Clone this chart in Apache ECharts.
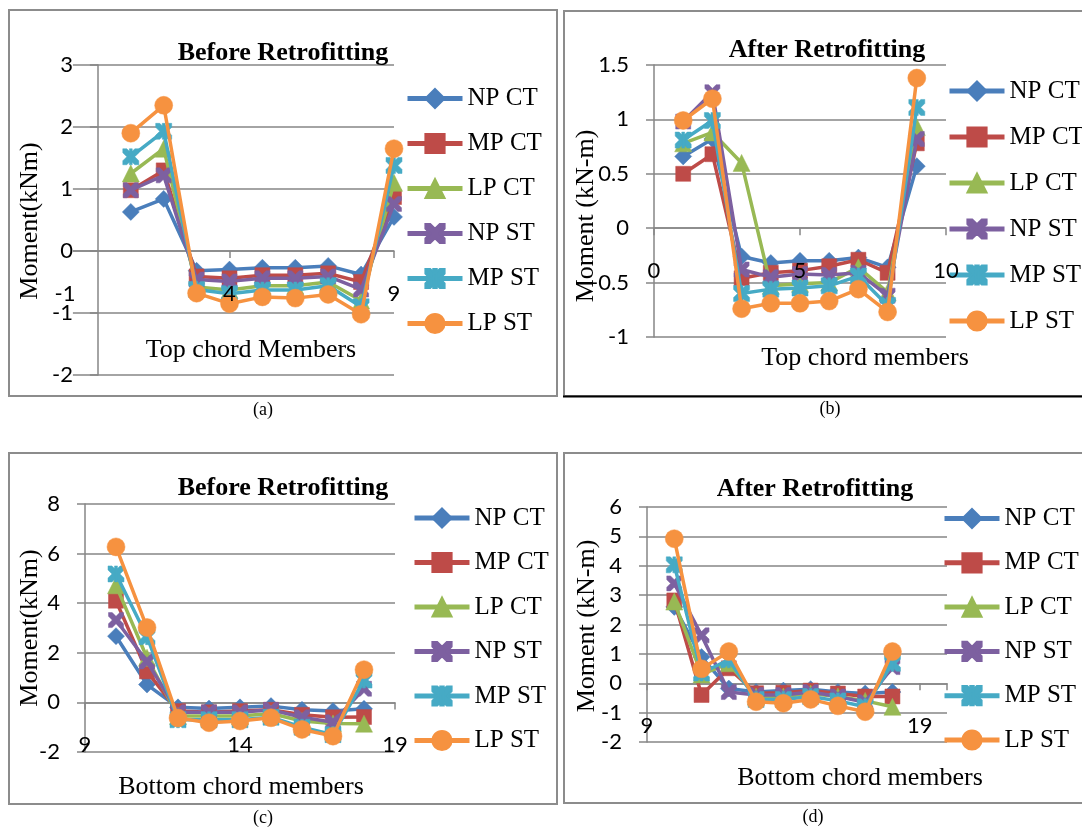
<!DOCTYPE html>
<html><head><meta charset="utf-8">
<script src="https://cdn.jsdelivr.net/npm/echarts@6/dist/echarts.min.js"></script>
<style>html,body{margin:0;padding:0;background:#fff}#c{width:1082px;height:827px}</style>
</head><body><div id="c"></div>
<script>
const seriesNames = ['NP CT', 'MP CT', 'LP CT', 'NP ST', 'MP ST', 'LP ST'];
const topMembers = [1, 2, 3, 4, 5, 6, 7, 8, 9];
const bottomMembers = [10, 11, 12, 13, 14, 15, 16, 17, 18];

// (a) Before retrofitting, top chord members
const aNPCT = [0.63, 0.84, -0.32, -0.30, -0.27, -0.27, -0.24, -0.38, 0.55];
const aMPCT = [0.98, 1.30, -0.41, -0.44, -0.39, -0.39, -0.36, -0.50, 0.87];
const aLPCT = [1.25, 1.65, -0.58, -0.63, -0.56, -0.56, -0.50, -0.80, 1.10];
const aNPST = [0.98, 1.22, -0.46, -0.49, -0.44, -0.44, -0.41, -0.62, 0.76];
const aMPST = [1.52, 1.93, -0.62, -0.69, -0.63, -0.63, -0.56, -0.90, 1.38];
const aLPST = [1.90, 2.35, -0.68, -0.85, -0.74, -0.76, -0.70, -1.02, 1.65];

// (b) After retrofitting, top chord members
const bNPCT = [0.66, 0.82, -0.26, -0.32, -0.30, -0.30, -0.27, -0.36, 0.57];
const bMPCT = [0.50, 0.68, -0.46, -0.41, -0.39, -0.35, -0.29, -0.41, 0.78];
const bLPCT = [0.78, 0.88, 0.60, -0.53, -0.51, -0.50, -0.36, -0.59, 0.93];
const bNPST = [0.98, 1.25, -0.38, -0.45, -0.42, -0.43, -0.41, -0.62, 0.82];
const bMPST = [0.81, 0.99, -0.60, -0.56, -0.55, -0.53, -0.44, -0.71, 1.11];
const bLPST = [0.99, 1.19, -0.74, -0.69, -0.69, -0.67, -0.56, -0.77, 1.38];

// (c) Before retrofitting, bottom chord members
const cNPCT = [2.67, 0.72, -0.20, -0.25, -0.20, -0.15, -0.30, -0.35, -0.26];
const cMPCT = [4.10, 1.25, -0.35, -0.40, -0.35, -0.30, -0.50, -0.60, -0.59];
const cLPCT = [4.72, 1.80, -0.55, -0.55, -0.55, -0.45, -0.75, -0.85, -0.86];
const cNPST = [3.32, 1.65, -0.40, -0.40, -0.40, -0.30, -0.60, -0.80, 0.55];
const cMPST = [5.18, 2.65, -0.70, -0.70, -0.70, -0.60, -1.00, -1.30, 0.90];
const cLPST = [6.27, 3.02, -0.63, -0.82, -0.75, -0.62, -1.09, -1.36, 1.32];

// (d) After retrofitting, bottom chord members
const dNPCT = [2.60, 0.89, -0.18, -0.30, -0.25, -0.20, -0.30, -0.35, -0.30];
const dMPCT = [2.82, -0.40, 0.51, -0.34, -0.32, -0.25, -0.35, -0.45, -0.45];
const dLPCT = [2.78, 0.30, 0.68, -0.45, -0.45, -0.35, -0.45, -0.60, -0.80];
const dNPST = [3.40, 1.63, -0.30, -0.40, -0.40, -0.30, -0.45, -0.65, 0.55];
const dMPST = [4.03, 0.35, 0.80, -0.55, -0.55, -0.45, -0.60, -0.80, 0.68];
const dLPST = [4.92, 0.49, 1.08, -0.63, -0.68, -0.55, -0.77, -0.97, 1.08];

const panelTitles = ['Before Retrofitting', 'After Retrofitting', 'Before Retrofitting', 'After Retrofitting'];
const xNames = ['Top chord Members', 'Top chord members', 'Bottom chord members', 'Bottom chord members'];
const yNames = ['Moment(kNm)', 'Moment (kN-m)', 'Moment(kNm)', 'Moment (kN-m)'];
const captions = ['(a)', '(b)', '(c)', '(d)'];

const panels = [
  { members: topMembers, values: [aNPCT, aMPCT, aLPCT, aNPST, aMPST, aLPST] },
  { members: topMembers, values: [bNPCT, bMPCT, bLPCT, bNPST, bMPST, bLPST] },
  { members: bottomMembers, values: [cNPCT, cMPCT, cLPCT, cNPST, cMPST, cLPST] },
  { members: bottomMembers, values: [dNPCT, dMPCT, dLPCT, dNPST, dMPST, dLPST] }
];

// ---- styling ----
const colors = ['#4A7EBB', '#BE4B48', '#98B954', '#7D60A0', '#46AAC5', '#F69240'];
const X_PATH = 'path://M0,0L2.5,0L5,2.5L7.5,0L10,0L10,2.5L7.5,5L10,7.5L10,10L7.5,10L5,7.5L2.5,10L0,10L0,7.5L2.5,5L0,2.5Z';
const STAR_PATH = X_PATH + 'M4.1,0L5.9,0L5.9,10L4.1,10Z';
const symbols = ['diamond', 'rect', 'triangle', X_PATH, STAR_PATH, 'circle'];
const symbolSizes = [17, 15, 17, 15, 16, 18];

const grids = [
  { left: 65, top: 65, width: 329, height: 310 },
  { left: 654, top: 65, width: 292, height: 272 },
  { left: 85, top: 504, width: 310, height: 248 },
  { left: 647, top: 507, width: 300, height: 235 }
];
const xRanges = [
  { min: -1, max: 9, interval: 5 },
  { min: 0, max: 10, interval: 5 },
  { min: 9, max: 19, interval: 5 },
  { min: 9, max: 20, interval: 10 }
];
const yRanges = [
  { min: -2, max: 3, interval: 1 },
  { min: -1, max: 1.5, interval: 0.5 },
  { min: -2, max: 8, interval: 2 },
  { min: -2, max: 6, interval: 1 }
];
const titlePos = [[283, 53], [827, 50], [283, 488], [815, 489]];
const xNamePos = [[251, 350], [865, 358], [241, 787], [860, 778]];
const yNamePos = [[30, 221], [586, 216], [30, 628], [587, 626]];
const captionPos = [[263, 410], [830, 409], [263, 818], [813, 817]];
const legendPos = [[405, 86, 20], [947, 78.5, 21], [412, 505.5, 19.5], [942, 506, 19.3]];

const gray = '#868686';
const tickFont = 'Lato';
const serif = '"Liberation Serif", "Times New Roman", serif';

// axes cross at zero: shift each axis from the grid edge to the zero line
function xAxisOffset(i) {
  const g = grids[i], r = yRanges[i];
  if (r.min >= 0 || r.max <= 0) return 0;
  return -g.height * (0 - r.min) / (r.max - r.min);
}
function yAxisOffset(i) {
  const g = grids[i], r = xRanges[i];
  if (r.min >= 0 || r.max <= 0) return 0;
  return -g.width * (0 - r.min) / (r.max - r.min);
}

function makeXAxis(r, i, labelsOnly) {
  return {
    gridIndex: i, type: 'value', min: r.min, max: r.max, interval: r.interval,
    position: 'bottom', offset: xAxisOffset(i), z: labelsOnly ? 30 : 0,
    axisLine: { show: !labelsOnly, onZero: false, lineStyle: { color: gray, width: 1.5 } },
    axisTick: { show: !labelsOnly, length: 7, lineStyle: { color: gray, width: 1.5 } },
    splitLine: { show: false },
    axisLabel: { show: labelsOnly, margin: 32, color: '#000', fontFamily: tickFont, fontSize: 22,
      showMinLabel: true, showMaxLabel: i !== 3 }
  };
}

const option = {
  backgroundColor: '#fff',
  animation: false,
  grid: grids.map(g => Object.assign({ containLabel: false, outerBoundsMode: 'none' }, g)),
  xAxis: xRanges.map((r, i) => makeXAxis(r, i, false))
    .concat(xRanges.map((r, i) => makeXAxis(r, i, true))),
  yAxis: yRanges.map((r, i) => ({
    gridIndex: i, type: 'value', min: r.min, max: r.max, interval: r.interval,
    position: 'left', offset: yAxisOffset(i),
    axisLine: { show: true, onZero: false, lineStyle: { color: gray, width: 1.5 } },
    axisTick: { show: true, length: 8, lineStyle: { color: gray, width: 1.5 } },
    splitLine: { show: true, lineStyle: { color: gray, width: 1.5 } },
    axisLabel: { show: true, margin: 25, color: '#000', fontFamily: tickFont, fontSize: 22,
      backgroundColor: i === 0 ? '#fff' : 'transparent' }
  })),
  legend: legendPos.map(p => ({
    data: seriesNames, orient: 'vertical', left: p[0], top: p[1], itemGap: p[2],
    padding: 0, itemWidth: 55, itemHeight: 24, selectedMode: false,
    lineStyle: { width: 5 },
    textStyle: { fontFamily: serif, fontSize: 25, color: '#000' }
  })),
  series: [],
  graphic: []
};

panels.forEach((p, pi) => {
  p.values.forEach((vals, si) => {
    option.series.push({
      type: 'line', name: seriesNames[si], xAxisIndex: pi, yAxisIndex: pi,
      data: p.members.map((m, k) => [m, vals[k]]),
      symbol: symbols[si], symbolSize: symbolSizes[si], showSymbol: true,
      lineStyle: { color: colors[si], width: 3.5 },
      itemStyle: { color: colors[si], borderColor: colors[si], borderWidth: 0.5 },
      emphasis: { disabled: true }, z: 2 + si
    });
  });
});

const G = option.graphic;
// panel borders
G.push({ type: 'rect', shape: { x: 9, y: 10, width: 548, height: 386 }, style: { fill: 'none', stroke: '#8c8c8c', lineWidth: 2 } });
G.push({ type: 'rect', shape: { x: 564, y: 11, width: 540, height: 385 }, style: { fill: 'none', stroke: '#8c8c8c', lineWidth: 2 } });
G.push({ type: 'line', shape: { x1: 563, y1: 396.5, x2: 1082, y2: 396.5 }, style: { stroke: '#000', lineWidth: 2 } });
G.push({ type: 'rect', shape: { x: 9, y: 453, width: 548, height: 351 }, style: { fill: 'none', stroke: '#8c8c8c', lineWidth: 2 } });
G.push({ type: 'rect', shape: { x: 564, y: 453, width: 540, height: 350 }, style: { fill: 'none', stroke: '#8c8c8c', lineWidth: 2 } });

function txt(s, pos, font, rot) {
  return { type: 'text', x: pos[0], y: pos[1], rotation: rot || 0, z: 100,
    style: { text: s, font: font, fill: '#000', align: 'center', verticalAlign: 'middle',
      textAlign: 'center', textVerticalAlign: 'middle' } };
}
for (let i = 0; i < 4; i++) {
  G.push(txt(panelTitles[i], titlePos[i], 'bold 26px ' + serif));
  G.push(txt(xNames[i], xNamePos[i], '26px ' + serif));
  G.push(txt(yNames[i], yNamePos[i], '26px ' + serif, Math.PI / 2));
  G.push(txt(captions[i], captionPos[i], '18px ' + serif));
}

const chart = echarts.init(document.getElementById('c'), null, { renderer: 'canvas' });
chart.setOption(option);
</script></body></html>
